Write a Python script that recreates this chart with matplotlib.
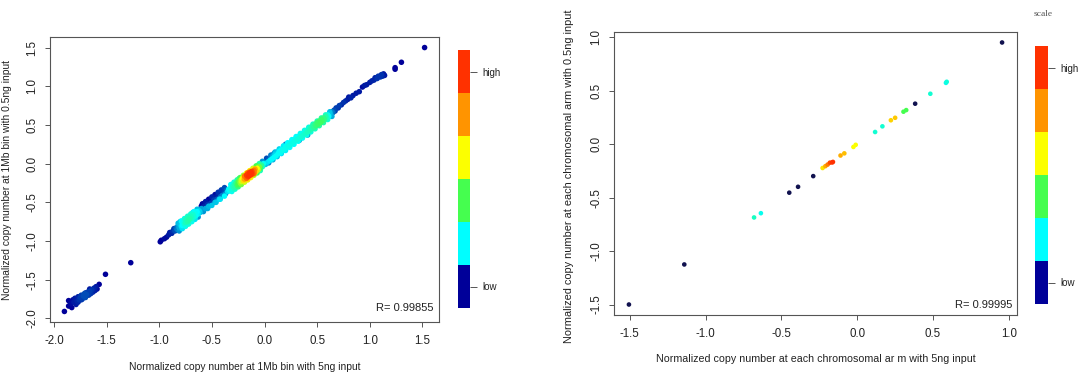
import numpy as np
import matplotlib
matplotlib.use("Agg")
from matplotlib import pyplot as plt
from matplotlib.colors import LinearSegmentedColormap, ListedColormap

# ---- data: left panel (1Mb bins), x, y and relative point density ----
left_x = [
    -1.90, -1.86, -1.83, -1.84, -1.82, -1.81, -1.80, -1.79, -1.78, -1.77, -1.76, -1.75, -1.74, -1.73, -1.72, -1.71, -1.70, -1.69, -1.68, -1.67, -1.66, -1.65, -1.64, -1.63, -1.62, -1.61, -1.60, -1.59, -1.57, -1.77, -1.74, -1.70, -1.66, -1.86,
    -1.51, -1.27, -0.99, -0.98, -0.95, -0.93, -0.91, -0.90, -0.88, -0.87, -0.86, -0.85,
    -0.84, -0.83, -0.82, -0.81, -0.80, -0.79, -0.78, -0.78, -0.77, -0.76, -0.75, -0.75, -0.74, -0.73, -0.72, -0.72, -0.71, -0.70, -0.69, -0.68, -0.67, -0.66, -0.65, -0.64, -0.63, -0.62, -0.61, -0.60, -0.59, -0.80, -0.76, -0.73, -0.70, -0.68, -0.66,
    -0.60, -0.58, -0.57, -0.55, -0.54, -0.52, -0.51, -0.50, -0.49, -0.48, -0.46, -0.45, -0.44, -0.42, -0.41, -0.40, -0.38, -0.37, -0.36, -0.56, -0.53, -0.47, -0.43,
    -0.35, -0.34, -0.33, -0.32, -0.31, -0.30, -0.29, -0.28, -0.28, -0.27, -0.26, -0.25, -0.25, -0.24, -0.23, -0.22, -0.22, -0.21, -0.20, -0.19, -0.19, -0.18, -0.17, -0.16, -0.16, -0.15, -0.14, -0.13, -0.13, -0.12, -0.11, -0.10, -0.10, -0.09, -0.08, -0.07, -0.06, -0.05, -0.04, -0.03, -0.02, -0.01, -0.20, -0.17, -0.14, -0.11, -0.18, -0.15, -0.12, -0.09, -0.24, -0.07,
    0.00, 0.01, 0.02, 0.03, 0.04, 0.05, 0.06, 0.07, 0.08, 0.09, 0.10, 0.11, 0.12, 0.13, 0.14, 0.15, 0.16, 0.17, 0.18, 0.19, 0.20, 0.21, 0.22, 0.23, 0.24, 0.25, 0.26, 0.27, 0.28, 0.29, 0.30, 0.31, 0.32, 0.33, 0.34, 0.35, 0.36, 0.37, 0.38, 0.39, 0.40, 0.41, 0.42, 0.43, 0.44, 0.45, 0.09, 0.20, 0.33, 0.41,
    0.46, 0.47, 0.48, 0.49, 0.50, 0.51, 0.52, 0.53, 0.54, 0.55, 0.56, 0.57, 0.58, 0.59, 0.60, 0.61, 0.62, 0.63, 0.64, 0.65, 0.66, 0.67,
    0.68, 0.70, 0.71, 0.73, 0.75, 0.77, 0.79, 0.80, 0.82, 0.84, 0.87, 0.90, 0.93, 0.95, 0.97, 1.00, 1.02, 1.04, 1.05, 1.07, 1.08, 1.10, 1.11, 1.12, 1.13, 1.14, 1.24, 1.24, 1.30, 1.52,
    -0.82, -0.79, -0.76, -0.73, -0.70, -0.67, -0.64, -0.81, -0.78, -0.75, -0.72, -0.69, -0.66, -0.63,
    -0.59, -0.56, -0.53, -0.50, -0.47, -0.44, -0.41, -0.38, -0.58, -0.54, -0.50, -0.46, -0.42, -0.38,
    -0.32, -0.29, -0.26, -0.23, -0.20, -0.17, -0.14, -0.11, -0.08, -0.05, -0.02, -0.31, -0.28, -0.25, -0.22, -0.19, -0.16, -0.13, -0.10, -0.07, -0.04, -0.17, -0.15, -0.13, -0.16, -0.12, -0.19, -0.10, -0.14,
    0.02, 0.06, 0.10, 0.14, 0.18, 0.22, 0.26, 0.30, 0.34, 0.38, 0.42, 0.46, 0.50, 0.54, 0.58, 0.62, 0.04, 0.08, 0.12, 0.16, 0.20, 0.24, 0.28, 0.32, 0.36, 0.40, 0.44, 0.48, 0.52, 0.56, 0.60, 0.64,
]
left_y = [
    -1.91, -1.77, -1.86, -1.81, -1.76, -1.79, -1.74, -1.82, -1.77, -1.72, -1.76, -1.73, -1.70, -1.75, -1.71, -1.68, -1.73, -1.69, -1.66, -1.70, -1.65, -1.68, -1.63, -1.66, -1.61, -1.64, -1.59, -1.62, -1.56, -1.79, -1.76, -1.67, -1.62, -1.84,
    -1.43, -1.28, -1.01, -0.99, -0.97, -0.95, -0.92, -0.89, -0.90, -0.87, -0.84, -0.87,
    -0.83, -0.85, -0.80, -0.83, -0.78, -0.81, -0.77, -0.80, -0.75, -0.78, -0.73, -0.76, -0.72, -0.75, -0.70, -0.73, -0.71, -0.68, -0.71, -0.66, -0.69, -0.64, -0.67, -0.62, -0.65, -0.61, -0.63, -0.58, -0.61, -0.75, -0.74, -0.78, -0.73, -0.63, -0.70,
    -0.55, -0.52, -0.55, -0.50, -0.53, -0.48, -0.51, -0.46, -0.44, -0.47, -0.43, -0.46, -0.41, -0.43, -0.39, -0.41, -0.37, -0.39, -0.34, -0.58, -0.55, -0.50, -0.46,
    -0.36, -0.33, -0.35, -0.31, -0.33, -0.29, -0.31, -0.27, -0.30, -0.25, -0.28, -0.24, -0.27, -0.22, -0.25, -0.21, -0.23, -0.19, -0.22, -0.18, -0.20, -0.16, -0.19, -0.15, -0.17, -0.13, -0.15, -0.12, -0.14, -0.10, -0.13, -0.09, -0.11, -0.07, -0.10, -0.06, -0.08, -0.04, -0.06, -0.02, -0.04, 0.00, -0.16, -0.13, -0.10, -0.08, -0.21, -0.18, -0.15, -0.12, -0.19, -0.03,
    0.02, -0.01, 0.04, 0.02, 0.06, 0.04, 0.08, 0.06, 0.10, 0.08, 0.12, 0.10, 0.15, 0.13, 0.16, 0.14, 0.18, 0.17, 0.21, 0.19, 0.22, 0.21, 0.25, 0.23, 0.26, 0.25, 0.29, 0.27, 0.31, 0.29, 0.33, 0.31, 0.35, 0.33, 0.37, 0.35, 0.39, 0.37, 0.41, 0.39, 0.43, 0.41, 0.45, 0.43, 0.47, 0.45, 0.13, 0.25, 0.30, 0.37,
    0.49, 0.47, 0.51, 0.49, 0.53, 0.51, 0.55, 0.53, 0.57, 0.55, 0.59, 0.57, 0.61, 0.59, 0.63, 0.61, 0.65, 0.63, 0.67, 0.66, 0.69, 0.68,
    0.72, 0.72, 0.75, 0.76, 0.79, 0.81, 0.83, 0.86, 0.85, 0.88, 0.91, 0.93, 0.99, 1.01, 1.02, 1.05, 1.07, 1.08, 1.11, 1.10, 1.13, 1.12, 1.15, 1.13, 1.16, 1.14, 1.24, 1.22, 1.31, 1.50,
    -0.77, -0.74, -0.71, -0.68, -0.65, -0.62, -0.59, -0.87, -0.84, -0.81, -0.78, -0.75, -0.72, -0.69,
    -0.52, -0.49, -0.46, -0.43, -0.40, -0.37, -0.34, -0.31, -0.62, -0.58, -0.54, -0.50, -0.46, -0.42,
    -0.27, -0.24, -0.21, -0.18, -0.15, -0.12, -0.09, -0.06, -0.03, 0.00, 0.03, -0.36, -0.33, -0.30, -0.27, -0.24, -0.21, -0.18, -0.15, -0.12, -0.09, -0.15, -0.16, -0.11, -0.12, -0.13, -0.16, -0.13, -0.12,
    0.07, 0.11, 0.15, 0.19, 0.23, 0.27, 0.31, 0.35, 0.39, 0.43, 0.47, 0.51, 0.55, 0.59, 0.63, 0.67, 0.01, 0.05, 0.09, 0.13, 0.17, 0.21, 0.25, 0.29, 0.33, 0.37, 0.41, 0.45, 0.49, 0.53, 0.57, 0.61,
]
left_dens = [
    0.0, 0.0, 0.0, 0.01, 0.01, 0.02, 0.02, 0.02, 0.03, 0.03, 0.04, 0.05, 0.05, 0.05, 0.06, 0.06, 0.06, 0.06, 0.05, 0.05, 0.05, 0.04, 0.04, 0.03, 0.03, 0.02, 0.02, 0.01, 0.0, 0.03, 0.04, 0.05, 0.02, 0.0,
    0.0, 0.0, 0.0, 0.0, 0.01, 0.01, 0.02, 0.02, 0.03, 0.04, 0.05, 0.06,
    0.08, 0.10, 0.12, 0.14, 0.16, 0.18, 0.20, 0.20, 0.22, 0.24, 0.26, 0.27, 0.28, 0.29, 0.28, 0.30, 0.29, 0.27, 0.26, 0.25, 0.24, 0.22, 0.21, 0.20, 0.19, 0.17, 0.15, 0.13, 0.11, 0.12, 0.20, 0.20, 0.20, 0.18, 0.16,
    0.0, 0.01, 0.03, 0.0, 0.04, 0.01, 0.05, 0.0, 0.01, 0.05, 0.02, 0.07, 0.03, 0.08, 0.04, 0.10, 0.06, 0.12, 0.08, 0.14, 0.15, 0.15, 0.17,
    0.18, 0.20, 0.21, 0.22, 0.24, 0.26, 0.28, 0.30, 0.30, 0.33, 0.36, 0.40, 0.40, 0.44, 0.48, 0.53, 0.55, 0.60, 0.66, 0.74, 0.76, 0.82, 0.88, 0.93, 0.95, 0.98, 1.00, 1.00, 1.00, 0.96, 0.92, 0.86, 0.84, 0.76, 0.68, 0.60, 0.52, 0.45, 0.38, 0.32, 0.27, 0.22, 0.50, 0.65, 0.75, 0.62, 0.55, 0.70, 0.72, 0.50, 0.32, 0.36,
    0.06, 0.16, 0.05, 0.18, 0.07, 0.19, 0.10, 0.20, 0.14, 0.20, 0.17, 0.21, 0.16, 0.21, 0.20, 0.21, 0.20, 0.22, 0.19, 0.22, 0.21, 0.22, 0.20, 0.23, 0.21, 0.23, 0.20, 0.23, 0.21, 0.23, 0.21, 0.24, 0.21, 0.24, 0.22, 0.25, 0.22, 0.25, 0.23, 0.26, 0.24, 0.27, 0.25, 0.28, 0.27, 0.29, 0.06, 0.09, 0.12, 0.12,
    0.30, 0.32, 0.33, 0.35, 0.36, 0.37, 0.37, 0.38, 0.37, 0.36, 0.34, 0.33, 0.30, 0.27, 0.23, 0.20, 0.16, 0.13, 0.10, 0.08, 0.06, 0.05,
    0.05, 0.04, 0.05, 0.03, 0.04, 0.03, 0.02, 0.02, 0.03, 0.02, 0.02, 0.02, 0.01, 0.02, 0.02, 0.02, 0.03, 0.03, 0.03, 0.04, 0.04, 0.04, 0.04, 0.03, 0.02, 0.02, 0.0, 0.0, 0.0, 0.0,
    0.15, 0.20, 0.24, 0.26, 0.24, 0.20, 0.15, 0.12, 0.18, 0.22, 0.24, 0.22, 0.18, 0.12,
    0.00, 0.02, 0.00, 0.03, 0.01, 0.04, 0.05, 0.06, 0.12, 0.14, 0.16, 0.16, 0.18, 0.20,
    0.20, 0.24, 0.30, 0.40, 0.50, 0.60, 0.60, 0.55, 0.40, 0.30, 0.12, 0.22, 0.26, 0.34, 0.45, 0.55, 0.65, 0.62, 0.50, 0.40, 0.28, 0.98, 1.00, 0.99, 0.90, 0.97, 0.85, 0.85, 1.00,
    0.06, 0.10, 0.15, 0.17, 0.19, 0.20, 0.20, 0.20, 0.21, 0.22, 0.23, 0.26, 0.28, 0.30, 0.26, 0.15, 0.10, 0.14, 0.16, 0.18, 0.19, 0.20, 0.20, 0.21, 0.21, 0.22, 0.24, 0.27, 0.30, 0.30, 0.25, 0.14,
]

# ---- data: right panel (chromosome arms) ----
right_x = [-1.505, -1.14, -0.68, -0.635, -0.448, -0.39, -0.29, -0.228, -0.21, -0.195, -0.18, -0.165, -0.16, -0.11,
           -0.085, -0.025, -0.01, 0.118, 0.166, 0.222, 0.25, 0.305, 0.323, 0.382, 0.482, 0.585, 0.59, 0.955]
right_y = [-1.50, -1.125, -0.685, -0.645, -0.453, -0.398, -0.298, -0.222, -0.205, -0.19, -0.172, -0.17, -0.165, -0.105,
           -0.085, -0.025, -0.005, 0.115, 0.168, 0.225, 0.248, 0.305, 0.32, 0.38, 0.473, 0.575, 0.585, 0.953]
right_dens = [0, 0, 0.27, 0.22, 0, 0, 0, 0.65, 0.75, 0.85, 0.95, 1.0, 1.0, 0.75,
              0.72, 0.6, 0.6, 0.25, 0.25, 0.68, 0.7, 0.4, 0.4, 0, 0.25, 0.22, 0.24, 0]

r_values = ["R= 0.99855", "R= 0.99995"]
xlabels = ["Normalized copy number at 1Mb bin with 5ng input",
           "Normalized copy number at each chromosomal ar m with 5ng input"]
ylabels = ["Normalized copy number at 1Mb bin with 0.5ng input",
           "Normalized copy number at each chromosomal arm with 0.5ng input"]
left_ticks = [-2.0, -1.5, -1.0, -0.5, 0.0, 0.5, 1.0, 1.5]
right_ticks = [-1.5, -1.0, -0.5, 0.0, 0.5, 1.0]
scale_colors = ["#000099", "#00FEFF", "#45FE4F", "#FCFF00", "#FF9400", "#FF3100"]
scale_labels = ["low", "high"]

plt.rcParams['font.family'] = ['Liberation Sans', 'DejaVu Sans']
W, H = 1080, 373
fig = plt.figure(figsize=(W / 100, H / 100), dpi=100)
fig.patch.set_facecolor("white")

def px_axes(x0, y0, x1, y1):
    return fig.add_axes([x0 / W, 1 - y1 / H, (x1 - x0) / W, (y1 - y0) / H])

frame_col = "#555555"
txt_col = "#222222"

def style(ax, ticks):
    for s in ax.spines.values():
        s.set_color(frame_col)
        s.set_linewidth(0.8)
    ax.set_xticks(ticks)
    ax.set_yticks(ticks)
    ax.set_xticklabels(["%.1f" % t for t in ticks])
    ax.set_yticklabels(["%.1f" % t for t in ticks], rotation=90, va="center")
    ax.tick_params(direction="out", length=3.6, width=0.7, color=frame_col,
                   labelsize=8.3, labelcolor=txt_col)
    ax.tick_params(axis="x", pad=6)
    ax.tick_params(axis="y", pad=5)

pt_cmap = LinearSegmentedColormap.from_list("dens", scale_colors)
pt_cmap_r = LinearSegmentedColormap.from_list("dens_r", ["#11124f"] + scale_colors[1:])

# left panel
ax1 = px_axes(50, 37, 439, 322)
lx, ly, ld = np.array(left_x), np.array(left_y), np.array(left_dens)
order = np.argsort(ld, kind="stable")
ax1.scatter(lx[order], ly[order], c=ld[order], cmap=pt_cmap, vmin=0, vmax=1,
            s=16, linewidths=0)
ax1.margins(0.04)
style(ax1, left_ticks)
ax1.text(0.987, 0.05, r_values[0], transform=ax1.transAxes, ha="right", va="center",
         fontsize=8, color=txt_col)

# right panel
ax2 = px_axes(614, 32, 1017, 315)
rx, ry, rd = np.array(right_x), np.array(right_y), np.array(right_dens)
order = np.argsort(rd, kind="stable")
ax2.scatter(rx[order], ry[order], c=rd[order], cmap=pt_cmap_r, vmin=0, vmax=1,
            s=11, linewidths=0)
ax2.margins(0.04)
style(ax2, right_ticks)
ax2.text(0.988, 0.037, r_values[1], transform=ax2.transAxes, ha="right", va="center",
         fontsize=8, color=txt_col)

# axis titles
fig.text(244.5 / W, 1 - 367 / H, xlabels[0], ha="center", va="center", fontsize=7.4, color=txt_col)
fig.text(7.5 / W, 1 - 179.5 / H, ylabels[0], ha="center", va="center", rotation=90, fontsize=7.4, color=txt_col)
fig.text(815.5 / W, 1 - 359 / H, xlabels[1], ha="center", va="center", fontsize=7.7, color=txt_col)
fig.text(569 / W, 1 - 176 / H, ylabels[1], ha="center", va="center", rotation=90, fontsize=7.9, color=txt_col)

# colour scales
def scale_bar(cax):
    cax.imshow(np.arange(len(scale_colors))[:, None], cmap=ListedColormap(scale_colors),
               origin="lower", aspect="auto", interpolation="nearest")
    for s in cax.spines.values():
        s.set_visible(False)
    cax.set_xticks([])
    cax.yaxis.tick_right()
    cax.set_yticks([0, len(scale_colors) - 1])
    cax.set_yticklabels(scale_labels)
    cax.tick_params(axis="y", length=5, width=0.7, color=frame_col, labelsize=7,
                    labelcolor=txt_col, pad=4)

scale_bar(px_axes(458, 50, 470, 308))
scale_bar(px_axes(1035, 46, 1048, 304))
fig.text(1043 / W, 1 - 14 / H, "scale", ha="center", va="center", fontsize=6.8,
         family="Liberation Serif", color="#555555")

fig.savefig("out.png", dpi=100)
